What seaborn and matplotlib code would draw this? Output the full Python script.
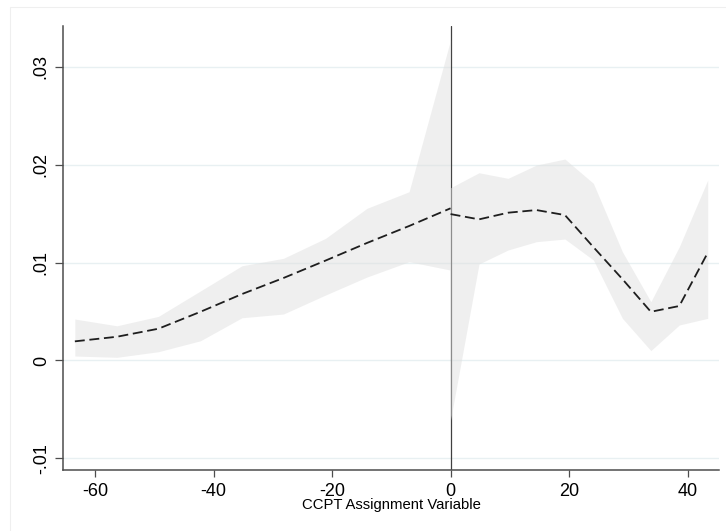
import numpy as np
import pandas as pd
import matplotlib
matplotlib.use("Agg")
import matplotlib.pyplot as plt
import seaborn as sns
from matplotlib.patches import Rectangle

# ---- data ----
x_left = [-63.4, -56.3, -49.3, -42.2, -35.2, -28.2, -21.1, -14.1, -7.0, 0.0]
mean_left = [0.00195, 0.00242, 0.00324, 0.00497, 0.00678, 0.00842, 0.0102, 0.0120, 0.01373, 0.01554]
upper_left = [0.00423, 0.00354, 0.00450, 0.00710, 0.00967, 0.01043, 0.01247, 0.01554, 0.01723, 0.03273]
lower_left = [0.00045, 0.00032, 0.00089, 0.00201, 0.00436, 0.00474, 0.00668, 0.00852, 0.01008, 0.00923]

x_right = [0.0, 4.8, 9.7, 14.5, 19.3, 24.1, 29.0, 33.8, 38.6, 43.4]
mean_right = [0.01495, 0.01441, 0.01509, 0.01536, 0.01485, 0.01158, 0.00831, 0.00497, 0.00556, 0.01100]
upper_right = [0.01764, 0.01917, 0.01860, 0.01996, 0.02057, 0.01809, 0.01110, 0.00600, 0.01161, 0.01843]
lower_right = [-0.00609, 0.00985, 0.01128, 0.01213, 0.01240, 0.01026, 0.00430, 0.00100, 0.00362, 0.00430]

y_ticks = [-0.01, 0.0, 0.01, 0.02, 0.03]
y_tick_labels = ["-.01", "0", ".01", ".02", ".03"]
x_ticks = [-60, -40, -20, 0, 20, 40]
x_tick_labels = ["-60", "-40", "-20", "0", "20", "40"]
x_label = "CCPT Assignment Variable"

# ---- style ----
sns.set_theme(style="white")
plt.rcParams["font.family"] = ["Liberation Sans", "DejaVu Sans"]

W, H = 726, 531
fig = plt.figure(figsize=(W / 100, H / 100), dpi=100)
fig.patch.set_facecolor("white")
fig.patches.append(Rectangle((10 / W, -0.05), 1.1, 1 - 7 / H + 0.05,
                             transform=fig.transFigure, fill=False,
                             edgecolor="#efefef", linewidth=0.8, zorder=0))

ax = fig.add_axes([63 / W, 1 - 470 / H, (719 - 63) / W, (470 - 26) / H])
ax.set_facecolor("white")

# gridlines (behind everything)
for yt in y_ticks:
    ax.axhline(yt, color="#e8f0f2", linewidth=1.0, zorder=0)

# reference line at the cutoff
ax.axvline(0, color="#404040", linewidth=0.9, zorder=1)

band_kw = dict(color="#e0e0e0", alpha=0.5, linewidth=0, zorder=2)
ax.fill_between(x_left, lower_left, upper_left, **band_kw)
ax.fill_between(x_right, lower_right, upper_right, **band_kw)

df_l = pd.DataFrame({"x": x_left, "y": mean_left})
df_r = pd.DataFrame({"x": x_right, "y": mean_right})
for df in (df_l, df_r):
    sns.lineplot(data=df, x="x", y="y", ax=ax, color="#1e1e1e",
                 linewidth=1.3, linestyle=(0, (5.5, 2.6)), estimator=None,
                 sort=False, zorder=3)

ax.set_xlim(-65.4, 45.3)
ax.set_ylim(-0.01119, 0.03416)

ax.set_xticks(x_ticks)
ax.set_xticklabels(x_tick_labels, fontsize=13)
ax.set_yticks(y_ticks)
ax.set_yticklabels(y_tick_labels, fontsize=13, rotation=90, va="center")

for side in ("top", "right"):
    ax.spines[side].set_visible(False)
for side in ("left", "bottom"):
    ax.spines[side].set_color("#4d4d4d")
    ax.spines[side].set_linewidth(1.1)

ax.tick_params(axis="x", direction="out", length=5, width=0.9,
               color="#4d4d4d", pad=4, labelcolor="black", bottom=True)
ax.tick_params(axis="y", direction="out", length=6, width=0.9,
               color="#4d4d4d", pad=3.5, labelcolor="black", left=True)

ax.set_xlabel(x_label, fontsize=10.7, labelpad=-1, color="black")
ax.set_ylabel("")

fig.savefig("out.png", dpi=100)
